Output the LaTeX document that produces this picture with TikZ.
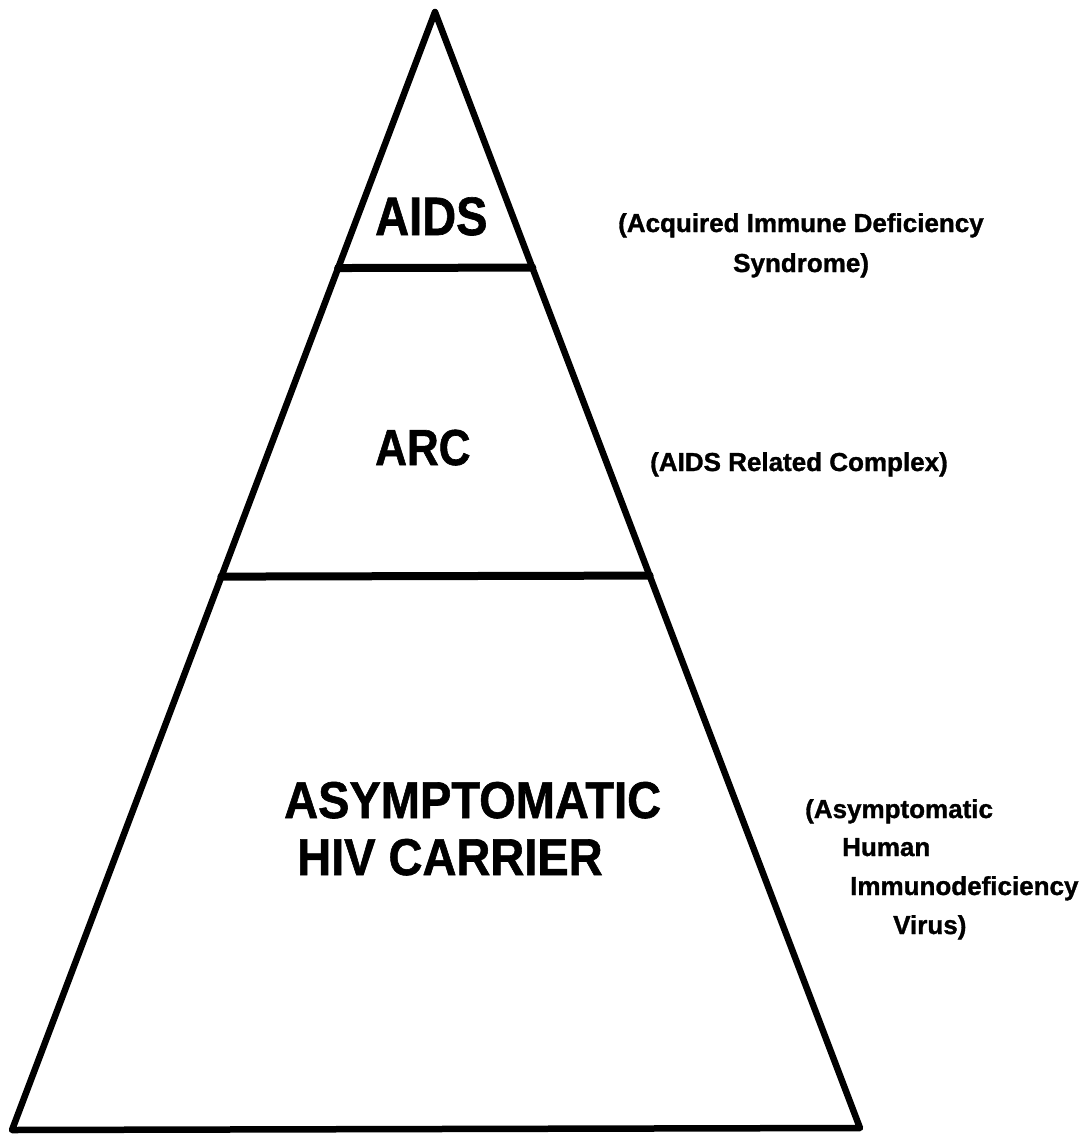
\documentclass[tikz,border=0pt]{standalone}
\usepackage{fontspec}
\setmainfont{Liberation Sans}[BoldFeatures={FakeBold=1.2}]
\usetikzlibrary{calc}
\tikzset{
  edge/.style={line width=6.5pt, line join=round, line cap=round},
  bar/.style={line width=8pt, line cap=round},
  biglbl/.style={font=\fontsize{47}{56}\selectfont\bfseries, inner sep=0pt, anchor=base west},
  smalllbl/.style={font=\fontsize{26}{31}\selectfont\bfseries, inner sep=0pt, anchor=base west}
}
\begin{document}
\begin{tikzpicture}[x=1pt,y=-1pt]
\useasboundingbox (0,0) rectangle (1084,1136);
\coordinate (apex) at (435,12);
\coordinate (bl) at (12,1130);
\coordinate (br) at (860,1128);
\draw[edge] (apex) -- (bl) -- (br) -- cycle;
\coordinate (l1) at ($(apex)!0.229!(bl)$);
\coordinate (r1) at ($(apex)!0.229!(br)$);
\coordinate (l2) at ($(apex)!0.505!(bl)$);
\coordinate (r2) at ($(apex)!0.505!(br)$);
\draw[bar] (l1) -- (r1);
\draw[bar] (l2) -- (r2);
\node[biglbl] (aids) at (375,235) {\scalebox{1}[1.15]{AIDS}};
\node[biglbl, font=\fontsize{44}{52}\selectfont\bfseries] (arc) at (375,465) {\scalebox{1}[1.15]{ARC}};
\node[biglbl] (asym) at (284,818) {\scalebox{1}[1.1]{ASYMPTOMATIC}};
\node[biglbl] (hiv) at (297,875) {\scalebox{1}[1.1]{HIV CARRIER}};
\node[smalllbl] (d1) at (618,232) {(Acquired Immune Deficiency};
\node[smalllbl] (d2) at (733,272) {Syndrome)};
\node[smalllbl] (d3) at (650,471) {(AIDS Related Complex)};
\node[smalllbl] (d4) at (805,818) {(Asymptomatic};
\node[smalllbl] (d5) at (842,856) {Human};
\node[smalllbl] (d6) at (850,895) {Immunodeficiency};
\node[smalllbl] (d7) at (893,934) {Virus)};
\end{tikzpicture}
\end{document}
